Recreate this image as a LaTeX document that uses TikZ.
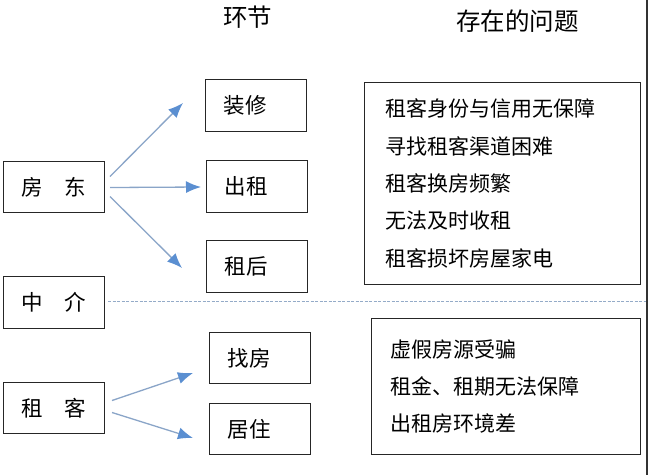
\documentclass[tikz,border=0pt]{standalone}
\usepackage{fontspec}
\setmainfont{Noto Sans CJK SC}
\usetikzlibrary{arrows.meta}
\definecolor{arrline}{HTML}{8AA5C8}
\definecolor{arrhead}{HTML}{5B8FD1}
\definecolor{dashc}{HTML}{94ABC8}
\begin{document}
\begin{tikzpicture}[x=1pt,y=-1pt,
  box/.style={draw=black!85,line width=1pt,anchor=north west,inner ysep=0pt,align=left},
  smallbox/.style={box,inner xsep=18pt,text width=65pt,minimum height=52pt,font=\fontsize{21.5}{26}\selectfont},
  rolebox/.style={box,inner xsep=0pt,text width=101pt,align=center,minimum height=51pt,font=\fontsize{21.5}{26}\selectfont},
  listbox/.style={box,font=\fontsize{21}{37.3}\selectfont},
  header/.style={font=\fontsize{24.5}{28}\selectfont},
  flow/.style={arrline,line width=1.3pt,-{Latex[length=15pt,width=12pt,color=arrhead]}}]
\fill[white] (0,0) rectangle (650,475);
\useasboundingbox (0,0) rectangle (650,475);
% headers
\node[header] (h1) at (247.5,17) {环节};
\node[header] (h2) at (517.5,21) {存在的问题};
% role boxes
\node[rolebox] (fd) at (3,161) {房　东};
\node[rolebox,minimum height=52pt] (zj) at (3,276) {中　介};
\node[rolebox] (zk) at (3,382) {租　客};
% stage boxes
\node[smallbox] (zx) at (205,79) {装修};
\node[smallbox] (cz) at (206,160) {出租};
\node[smallbox] (zh) at (206,240) {租后};
\node[smallbox,minimum height=51pt] (zf) at (209,332) {找房};
\node[smallbox,minimum height=51pt] (jz) at (209,403) {居住};
% problem boxes
\node[listbox,inner xsep=21pt,text width=234pt,minimum height=202pt] (p1) at (364,82)
  {租客身份与信用无保障\\寻找租客渠道困难\\租客换房频繁\\无法及时收租\\租客损坏房屋家电};
\node[listbox,inner xsep=19pt,text width=231pt,minimum height=136pt] (p2) at (371,318)
  {虚假房源受骗\\租金、租期无法保障\\出租房环境差};
% separators
\coordinate (dl) at (108,301);
\coordinate (dr) at (647,301);
\draw[dashc,line width=1pt,dash pattern=on 3pt off 1.5pt] (dl) -- (dr);
\coordinate (vt) at (647,0);
\coordinate (vb) at (647,475);
\draw[black!80,line width=1.2pt] (vt) -- (vb);
% arrow ends
\coordinate (a1) at (183,103);
\coordinate (a2) at (201,187);
\coordinate (a3) at (182,268);
\coordinate (b1) at (193,373);
\coordinate (b2) at (193,438);
\draw[flow] ([shift={(5,-10.5)}]fd.east) -- (a1);
\draw[flow] ([shift={(5,0.5)}]fd.east) -- (a2);
\draw[flow] ([shift={(5,9.5)}]fd.east) -- (a3);
\draw[flow] ([shift={(7,-7.5)}]zk.east) -- (b1);
\draw[flow] ([shift={(7,4.5)}]zk.east) -- (b2);
\end{tikzpicture}
\end{document}
